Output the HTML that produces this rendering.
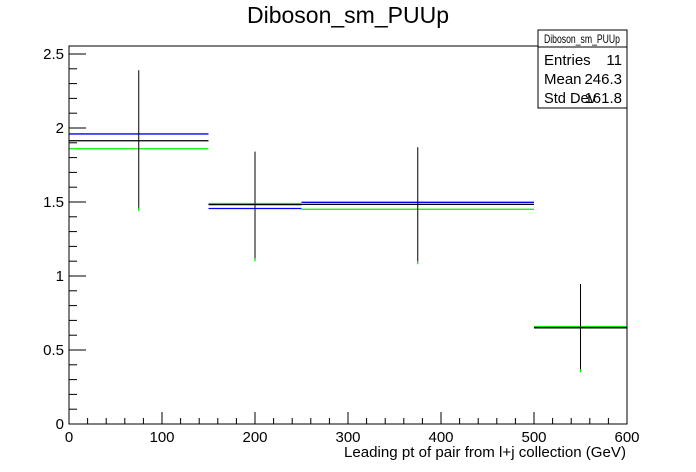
<!DOCTYPE html>
<html><head><meta charset="utf-8"><style>body{margin:0;background:#fff}svg{display:block;font-family:"Liberation Sans",Arial,sans-serif}</style></head>
<body>
<svg id="c" width="696" height="472">
<rect width="696" height="472" fill="#fff"/>
<text x="348" y="23" font-size="23" text-anchor="middle">Diboson_sm_PUUp</text>
<g id="plot"></g>
<rect x="69" y="46" width="558" height="378" fill="none" stroke="#000"/>
<text x="626" y="457" font-size="15" text-anchor="end" textLength="282" lengthAdjust="spacingAndGlyphs">Leading pt of pair from l+j collection (GeV)</text>
<g>
<rect x="538" y="30" width="89" height="78" fill="#fff" stroke="#000"/>
<line x1="538" y1="47" x2="627" y2="47" stroke="#000"/>
<text x="582" y="43" font-size="12" text-anchor="middle" textLength="76" lengthAdjust="spacingAndGlyphs">Diboson_sm_PUUp</text>
<text x="544" y="65" font-size="15">Entries</text><text x="622" y="65" font-size="15" text-anchor="end">11</text>
<text x="544" y="84" font-size="15">Mean</text><text x="622" y="84" font-size="15" text-anchor="end">246.3</text>
<text x="544" y="103" font-size="15" textLength="52" lengthAdjust="spacingAndGlyphs">Std Dev</text><text x="622" y="103" font-size="15" text-anchor="end">161.8</text>
</g>
</svg>
<script>
const binEdges=[0,150,250,500,600];
const blackVals=[1.914,1.482,1.484,0.65];
const blueVals=[1.96,1.456,1.498,0.65];
const greenVals=[1.86,1.49,1.451,0.659];
const errHigh=[2.39,1.84,1.87,0.946];
const errLow=[1.46,1.12,1.10,0.37];
const xTicks=[0,100,200,300,400,500,600];
const yTicks=[0,0.5,1,1.5,2,2.5];
const yTickLabels=["0","0.5","1","1.5","2","2.5"];
const X0=69,X1=627,Y0=424,YMAX=2.554,Yt=46;
const sx=v=>X0+(v-0)/(600)*(X1-X0);
const sy=v=>Y0-v/YMAX*(Y0-Yt);
const g=document.getElementById('plot');const NS="http://www.w3.org/2000/svg";
function ln(x1,y1,x2,y2,c,w,name){const l=document.createElementNS(NS,'line');l.setAttribute('x1',x1);l.setAttribute('y1',y1);l.setAttribute('x2',x2);l.setAttribute('y2',y2);l.setAttribute('stroke',c);l.setAttribute('stroke-width',w||1);


g.appendChild(l);return l;}
function tx(x,y,s,a,name){const t=document.createElementNS(NS,'text');t.setAttribute('x',x);t.setAttribute('y',y);t.setAttribute('font-size','15');t.setAttribute('text-anchor',a);t.textContent=s;


g.appendChild(t);}
for(let v=0;v<=600;v+=20){const maj=v%100===0;ln(sx(v),Y0,sx(v),Y0-(maj?12:6),'#000',1,'x-tick');}
for(let v=0;v<=2.55;v+=0.1){const maj=Math.abs(v*2-Math.round(v*2))<1e-6;ln(X0,sy(v),X0+(maj?17:8),sy(v),'#000',1,'y-tick');}
xTicks.forEach(v=>tx(sx(v),442,String(v),'middle','x-tick-label'));
yTicks.forEach((v,i)=>tx(X0-5,sy(v)+5,yTickLabels[i],'end','y-tick-label'));
for(let i=0;i<4;i++){
  const a=sx(binEdges[i]),b=sx(binEdges[i+1]),m=(a+b)/2;
  ln(m,sy(errLow[i])+3,m,sy(errLow[i]),'#00ee00',1.3,'green-error-tail');
  ln(a,sy(greenVals[i]),b,sy(greenVals[i]),'#00ee00',1.3,'green-bin');
  ln(a,sy(blueVals[i]),b,sy(blueVals[i]),'#0000ff',1.3,'blue-bin');
  ln(a,sy(blackVals[i]),b,sy(blackVals[i]),'#000',1.3,'black-bin');
  ln(m,sy(errHigh[i]),m,sy(errLow[i]),'#000',1,'error-bar');
}
</script>
</body></html>
